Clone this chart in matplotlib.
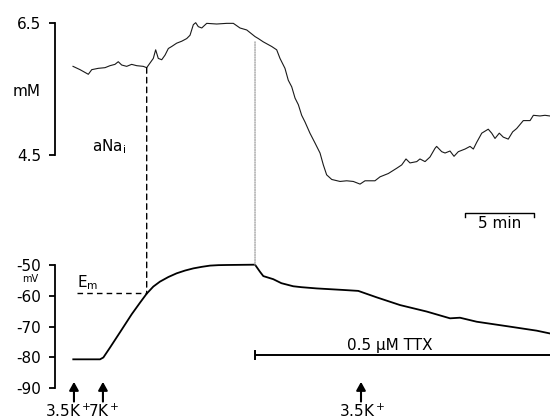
import matplotlib
matplotlib.use("Agg")
import matplotlib.pyplot as plt
from matplotlib.patches import ConnectionPatch

plt.rcParams['font.family'] = ['DejaVu Sans']
plt.rcParams['font.size'] = 11

# ---------------- data ----------------
# intracellular Na activity (mM) vs time (min)
na_time = [0.0, 0.51, 1.11, 1.36, 1.83, 2.32, 2.68, 3.04, 3.28, 3.53, 3.89, 4.25, 4.62,
           5.09, 5.34, 5.58, 5.82, 5.99, 6.18, 6.43, 6.67, 6.91, 7.15, 7.51, 7.88, 8.24,
           8.48, 8.72, 8.89, 9.08, 9.33, 9.69, 10.41, 11.14, 11.62, 12.10, 12.59, 13.19,
           13.43, 13.79, 14.40, 14.76, 15.0, 15.36, 15.60, 15.85, 16.09, 16.33, 16.57,
           16.81, 17.17, 17.54, 17.90, 18.14, 18.38, 18.75, 19.35, 19.83, 20.31, 20.80,
           21.16, 21.88, 22.25, 22.85, 23.46, 23.82, 24.13, 24.42, 24.91, 25.14, 25.51,
           25.87, 26.23, 26.35, 26.72, 26.96, 27.32, 27.61, 27.92, 28.41, 28.77, 29.01,
           29.25, 29.62, 30.09, 30.34, 30.58, 30.89, 31.18, 31.54, 31.86, 32.15, 32.63,
           33.12, 33.36, 33.84, 34.20, 34.55]
na_value = [5.84, 5.79, 5.72, 5.79, 5.81, 5.82, 5.85, 5.87, 5.91, 5.86, 5.84, 5.87, 5.85,
            5.84, 5.82, 5.89, 5.96, 6.09, 5.96, 5.94, 6.01, 6.11, 6.14, 6.19, 6.22, 6.26,
            6.31, 6.47, 6.50, 6.44, 6.42, 6.49, 6.48, 6.49, 6.49, 6.42, 6.39, 6.29,
            6.26, 6.21, 6.14, 6.09, 5.96, 5.81, 5.63, 5.53, 5.36, 5.26, 5.10,
            5.00, 4.83, 4.68, 4.53, 4.35, 4.20, 4.13, 4.10, 4.11, 4.10, 4.06,
            4.11, 4.11, 4.17, 4.22, 4.30, 4.35, 4.44, 4.38, 4.40, 4.44, 4.40,
            4.47, 4.60, 4.63, 4.55, 4.53, 4.56, 4.48, 4.55, 4.59, 4.63, 4.59,
            4.69, 4.83, 4.89, 4.83, 4.75, 4.83, 4.77, 4.74, 4.85, 4.90, 5.02,
            5.02, 5.10, 5.09, 5.10, 5.09]

# membrane potential (mV) vs time (min)
em_time = [0.02, 1.96, 2.20, 2.68, 3.41, 4.25, 4.86, 5.34, 5.82, 6.30, 6.91,
           7.51, 8.12, 8.72, 9.33, 9.93, 10.53, 11.14, 13.19, 13.55, 13.79, 14.51, 15.10,
           15.96, 16.56, 17.66, 19.59, 20.67, 22.01, 23.70, 25.63, 27.32, 28.04, 29.25,
           31.67, 33.60, 34.55]
em_value = [-80.6, -80.6, -80.0, -76.8, -71.8, -66.0, -62.2, -59.3, -57.0, -55.4, -53.9,
            -52.7, -51.8, -51.1, -50.6, -50.2, -50.05, -50.0, -49.9, -52.2,
            -53.6, -54.6, -55.9, -56.9, -57.2, -57.6, -58.1, -58.4, -60.5, -63.0, -65.1,
            -67.3, -67.1, -68.4, -70.0, -71.3, -72.2]

na_ticks = [4.5, 6.5]
na_ticklabels = ['4.5', '6.5']
em_ticks = [-90, -80, -70, -60, -50]
em_ticklabels = ['-90', '-80', '-70', '-60', '-50']

arrow_times = [0.07, 2.17, 20.87]
arrow_labels = ['3.5K$^+$', '7K$^+$', '3.5K$^+$']

ttx_start = 13.19
ttx_label = '0.5 µM TTX'
em_mark_time = 5.34     # dashed marker
em_mark_value = -59.2
na_mark_value = 5.82
dotted_time = 13.19
dotted_na = 6.21
dotted_em = -50.0
scale_start = 28.41
scale_len = 5

# ---------------- figure ----------------
W, H = 550, 420
fig = plt.figure(figsize=(W / 100, H / 100), dpi=100)

x0 = 55 / W
ax_na = fig.add_axes([x0, 1 - 205 / H, 1 - x0, 205 / H])
ax_em = fig.add_axes([x0, 0, 1 - x0, 215 / H])
for ax in (ax_na, ax_em):
    ax.patch.set_alpha(0)
    ax.set_xlim(-1.304, 34.565)
    for s in ('top', 'right', 'bottom'):
        ax.spines[s].set_visible(False)
    ax.spines['left'].set_linewidth(1.3)
    ax.tick_params(axis='y', length=4.5, width=1.3, pad=5.5, labelsize=11)
    ax.set_xticks([])

ax_na.set_ylim(3.744, 6.843)
ax_na.spines['left'].set_bounds(4.5, 6.5)
ax_na.set_yticks(na_ticks)
ax_na.set_yticklabels(na_ticklabels)

ax_em.set_ylim(-100.28, -30.54)
ax_em.spines['left'].set_bounds(-90, -50)
ax_em.set_yticks(em_ticks)
ax_em.set_yticklabels(em_ticklabels)

# traces
ax_na.plot(na_time, na_value, color='#1a1a1a', lw=0.8, clip_on=False)
ax_em.plot(em_time, em_value, color='black', lw=1.3, clip_on=False)

# unit labels
fig.text(27 / W, 1 - 92 / H, 'mM', ha='center', va='center', fontsize=11)
fig.text(30 / W, 1 - 279 / H, 'mV', ha='center', va='center', fontsize=7)
ax_na.text(2.6, 4.62, 'aNa$_\\mathregular{i}$', ha='center', va='center', fontsize=11)
ax_em.text(1.05, -55.6, 'E$_\\mathregular{m}$', ha='center', va='center', fontsize=11)

# dashed markers
ax_em.plot([0.27, em_mark_time], [em_mark_value, em_mark_value], color='black',
           lw=1.0, ls=(0, (4, 3)))
con = ConnectionPatch(xyA=(em_mark_time, na_mark_value), coordsA=ax_na.transData,
                      xyB=(em_mark_time, em_mark_value), coordsB=ax_em.transData,
                      color='black', lw=1.0, ls=(0, (4, 3)))
fig.add_artist(con)
con2 = ConnectionPatch(xyA=(dotted_time, dotted_na), coordsA=ax_na.transData,
                       xyB=(dotted_time, dotted_em), coordsB=ax_em.transData,
                       color='#9a9a9a', lw=0.9, ls=(0, (1, 1)))
fig.add_artist(con2)

# TTX bar
ax_em.plot([ttx_start, 34.565], [-79.2, -79.2], color='black', lw=1.4, clip_on=False,
           solid_capstyle='butt')
ax_em.plot([ttx_start, ttx_start], [-80.5, -77.9], color='black', lw=1.4, clip_on=False)
ax_em.text(22.97, -76.0, ttx_label, ha='center', va='center', fontsize=11)

# scale bar
ax_em.plot([scale_start, scale_start, scale_start + scale_len, scale_start + scale_len],
           [-34.4, -33.1, -33.1, -34.4], color='black', lw=1.0, clip_on=False)
ax_em.text(scale_start + scale_len / 2, -36.4, '5 min', ha='center', va='center',
           fontsize=11)

# arrows
label_shift = [-0.4, 0.1, 0.1]
for t, lab, dx in zip(arrow_times, arrow_labels, label_shift):
    ax_em.annotate('', xy=(t, -87.9), xytext=(t, -94.3),
                   arrowprops=dict(arrowstyle='-|>,head_width=0.25,head_length=0.45',
                                   color='black', lw=1.5, shrinkA=0, shrinkB=0),
                   annotation_clip=False)
    ax_em.text(t + dx, -99.4, lab, ha='center', va='baseline', fontsize=11)

fig.savefig('out.png', dpi=100)
